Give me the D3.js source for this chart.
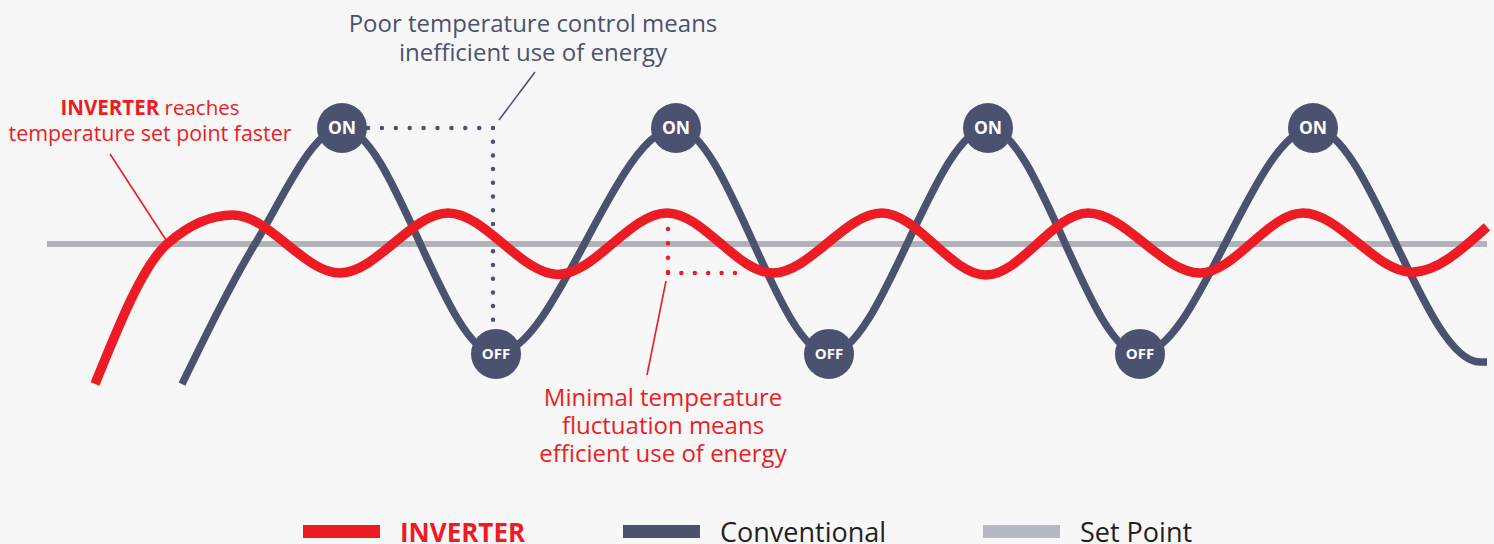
<!DOCTYPE html>
<html lang="en">
<head>
<meta charset="utf-8">
<title>Inverter vs Conventional temperature control</title>
<script src="https://d3js.org/d3.v7.min.js"></script>
<style>
    body { margin: 0; background: #f7f7f7; }
    svg { display: block; font-family: "Open Sans", sans-serif; }
</style>
</head>
<body>
<script>
    // values: time in minutes, temperature in degrees
    var setPoint = 22;
    var timeSpan = [0, 144];

    var inverterTime = [4.8, 12.0, 18.6, 29.3, 40.1, 51.1, 62.0, 72.6, 83.5, 93.9, 104.1, 115.3, 125.6, 136.5, 144.0];
    var inverterTemp = [17.17, 22.0, 23.0, 21.0, 23.07, 20.95, 23.07, 21.0, 23.07, 20.93, 23.07, 21.0, 23.07, 21.03, 22.59];

    var conventionalTime = [13.5, 20.8, 29.5, 44.9, 62.9, 78.2, 94.1, 109.3, 126.6, 143.3, 144.0];
    var conventionalTemp = [17.17, 22.0, 26.0, 18.21, 26.0, 18.21, 26.0, 18.21, 26.0, 17.93, 17.93];

    var onTimes = [29.5, 62.9, 94.1, 126.6];
    var offTimes = [44.9, 78.2, 109.3];

    var legendNames = ["INVERTER", "Conventional", "Set Point"];

    var poorText = ["Poor temperature control means", "inefficient use of energy"];
    var fasterText = ["reaches", "temperature set point faster"];
    var minimalText = ["Minimal temperature", "fluctuation means", "efficient use of energy"];

    var red = "#ed1c24";
    var dark = "#4a5270";
    var grey = "#b1b1b9";

    var w = 1494;
    var h = 544;
    var svg = d3.select("body").append("svg").attr("width", w).attr("height", h);

    var x = d3.scaleLinear().domain(timeSpan).range([47, 1487]);
    var y = d3.scaleLinear().domain([14, 30]).range([476, 12]);

    var line = d3.line()
        .x(function (d) { return x(d[0]); })
        .y(function (d) { return y(d[1]); })
        .curve(d3.curveMonotoneX);

    var inverter = d3.zip(inverterTime, inverterTemp);
    var conventional = d3.zip(conventionalTime, conventionalTemp);

    // set point
    svg.append("line")
        .attr("x1", x(timeSpan[0])).attr("x2", x(timeSpan[1]))
        .attr("y1", y(setPoint)).attr("y2", y(setPoint))
        .attr("stroke", grey).attr("stroke-width", 6);

    // dotted guides
    var dots = d3.line().x(function (d) { return x(d[0]); }).y(function (d) { return y(d[1]); });
    function dotted(pts, colour, gap) {
        svg.append("path")
            .attr("d", dots(pts))
            .attr("fill", "none").attr("stroke", colour).attr("stroke-width", 4.5)
            .attr("stroke-linecap", "round").attr("stroke-dasharray", "0 " + gap);
    }
    dotted([[32.1, 26.0], [44.6, 26.0]], dark, 13.9);
    dotted([[44.6, 26.0], [44.6, 19.38]], dark, 13.7);
    dotted([[62.1, 22.52], [62.1, 21.0]], red, 14.4);
    dotted([[62.1, 21.0], [68.8, 21.0]], red, 13.4);

    svg.append("path").attr("d", line(conventional))
        .attr("fill", "none").attr("stroke", dark).attr("stroke-width", 7.5);

    svg.append("path").attr("d", line(inverter))
        .attr("fill", "none").attr("stroke", red).attr("stroke-width", 9.5);

    // on / off markers
    var markers = onTimes.map(function (t) { return { t: t, v: 26.0, label: "ON" }; })
        .concat(offTimes.map(function (t) { return { t: t, v: 18.21, label: "OFF" }; }));

    var m = svg.selectAll("g.marker").data(markers).enter().append("g")
        .attr("transform", function (d) { return "translate(" + x(d.t) + "," + y(d.v) + ")"; });
    m.append("circle").attr("r", 25).attr("fill", dark);
    m.append("text")
        .attr("text-anchor", "middle").attr("dy", "0.36em")
        .attr("fill", "#fff").attr("font-weight", 700)
        .attr("font-size", function (d) { return d.label == "ON" ? 17.5 : 15; })
        .text(function (d) { return d.label; });

    // pointer lines
    svg.append("line").attr("x1", 499).attr("y1", 120).attr("x2", 535).attr("y2", 72)
        .attr("stroke", dark).attr("stroke-width", 1.6);
    svg.append("line").attr("x1", 110).attr("y1", 154).attr("x2", 166).attr("y2", 240)
        .attr("stroke", red).attr("stroke-width", 1.6);
    svg.append("line").attr("x1", 666).attr("y1", 281).attr("x2", 647).attr("y2", 375)
        .attr("stroke", red).attr("stroke-width", 1.6);

    // notes
    svg.selectAll("text.poor").data(poorText).enter().append("text")
        .attr("x", 533).attr("y", function (d, i) { return 32 + i * 29; })
        .attr("text-anchor", "middle").attr("font-size", 24).attr("fill", dark)
        .text(function (d) { return d; });

    var first = svg.append("text")
        .attr("x", 150).attr("y", 115)
        .attr("text-anchor", "middle").attr("font-size", 20.5).attr("fill", red);
    first.append("tspan").attr("font-weight", 700).text("INVERTER ");
    first.append("tspan").text(fasterText[0]);
    svg.append("text")
        .attr("x", 150).attr("y", 141)
        .attr("text-anchor", "middle").attr("font-size", 21.4).attr("fill", red)
        .text(fasterText[1]);

    svg.selectAll("text.minimal").data(minimalText).enter().append("text")
        .attr("x", 663).attr("y", function (d, i) { return 406 + i * 28; })
        .attr("text-anchor", "middle").attr("font-size", 24).attr("fill", red)
        .text(function (d) { return d; });

    // legend
    var legendColors = [red, dark, "#b5b7c2"];
    var legendX = [303, 623, 983];
    var lg = svg.selectAll("g.legend").data(legendNames).enter().append("g")
        .attr("transform", function (d, i) { return "translate(" + legendX[i] + ",0)"; });
    lg.append("rect").attr("x", 0).attr("y", 525).attr("width", 77).attr("height", 13)
        .attr("fill", function (d, i) { return legendColors[i]; });
    lg.append("text").attr("x", 97).attr("y", 542)
        .attr("font-size", function (d, i) { return i == 0 ? 26 : 27; })
        .attr("font-weight", function (d, i) { return i == 0 ? 700 : 400; })
        .attr("fill", function (d, i) { return i == 0 ? red : "#231f20"; })
        .text(function (d) { return d; });
</script>
</body>
</html>
